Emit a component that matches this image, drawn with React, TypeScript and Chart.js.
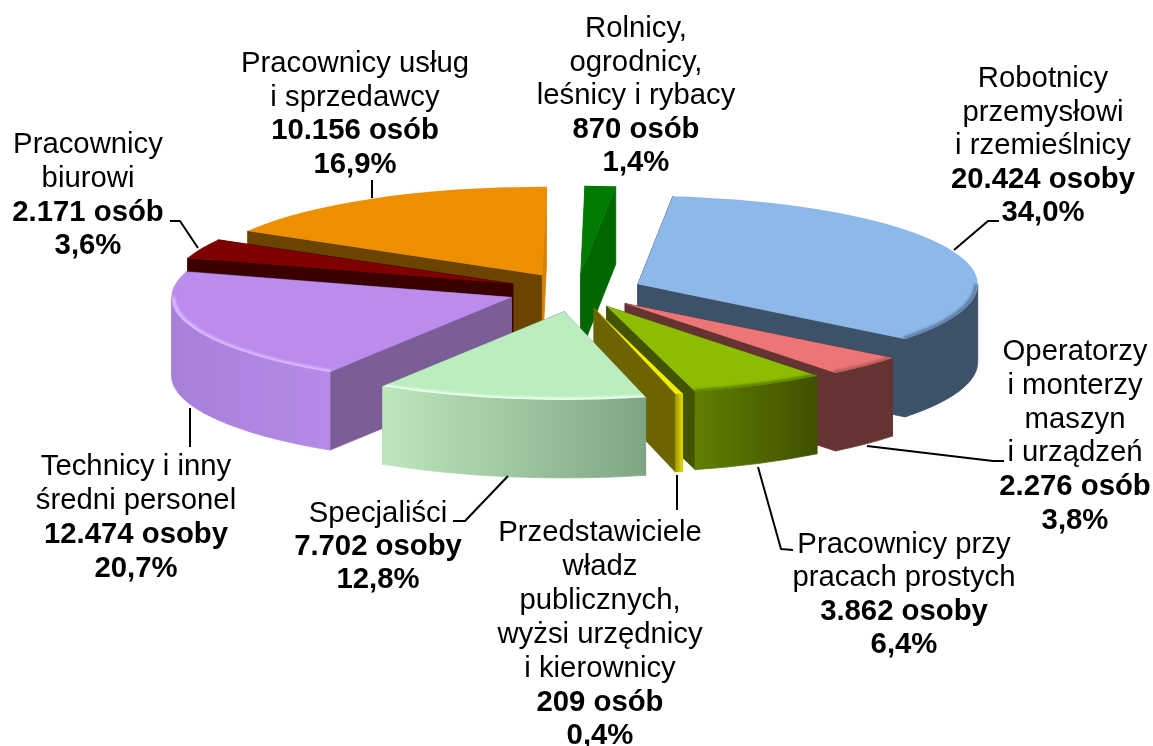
import React, { useEffect, useRef } from "react";
import { Chart, registerables } from "chart.js";

Chart.register(...registerables);

const categories = [
  "Rolnicy, ogrodnicy, leśnicy i rybacy",
  "Robotnicy przemysłowi i rzemieślnicy",
  "Operatorzy i monterzy maszyn i urządzeń",
  "Pracownicy przy pracach prostych",
  "Przedstawiciele władz publicznych, wyżsi urzędnicy i kierownicy",
  "Specjaliści",
  "Technicy i inny średni personel",
  "Pracownicy biurowi",
  "Pracownicy usług i sprzedawcy",
];
const values = [870, 20424, 2276, 3862, 209, 7702, 12474, 2171, 10156];
const explode = [65, 66, 68, 66, 68, 80, 70, 70, 70];

const topColors = ["#007A00", "#8DB9EA", "#EC7575", "#8DBD00", "#F4EC00", "#BBEDBE", "#BB8CEE", "#7F0000", "#EE8F00"];
const startWallColors = ["#007A00", "#3D5268", "#663333", "#425400", "#6B6400", "#7FA585", "#7B5E98", "#3A0000", "#6B4400"];
const endWallColors = ["#006600", "#3D5268", "#663333", "#425400", "#6B6400", "#7FA585", "#7B5E98", "#3A0000", "#D98200"];
const rimWallLeft = ["#006600", "#3D5268", "#663333", "#607F00", "#A09600", "#BDE7BD", "#A680DB", "#3A0000", "#6B4400"];
const rimWallRight = ["#006600", "#3D5268", "#663333", "#405000", "#E5DC00", "#7FA585", "#B68AE8", "#3A0000", "#6B4400"];
const bevelColors = ["", "#5F80A5", "#B85C5C", "#5F7F00", "#F4EC00", "#EAFFEC", "#DDB8FF", "", ""];

const labelLines = [
  ["Rolnicy,", "ogrodnicy,", "leśnicy i rybacy", "*870 osób", "*1,4%"],
  ["Robotnicy", "przemysłowi", "i rzemieślnicy", "*20.424 osoby", "*34,0%"],
  ["Operatorzy", "i monterzy", "maszyn", "i urządzeń", "*2.276 osób", "*3,8%"],
  ["Pracownicy przy", "pracach prostych", "*3.862 osoby", "*6,4%"],
  ["Przedstawiciele", "władz", "publicznych,", "wyżsi urzędnicy", "i kierownicy", "*209 osób", "*0,4%"],
  ["Specjaliści", "*7.702 osoby", "*12,8%"],
  ["Technicy i inny", "średni personel", "*12.474 osoby", "*20,7%"],
  ["Pracownicy", "biurowi", "*2.171 osób", "*3,6%"],
  ["Pracownicy usług", "i sprzedawcy", "*10.156 osób", "*16,9%"],
];
const labelCenterX = [636, 1043, 1075, 904, 600, 378, 136, 88, 355];
const labelBaselineY = [37, 87, 360, 553, 541, 522, 475, 153, 72];
const labelLineStep = [33.6, 33.6, 33.8, 33.3, 33.9, 33, 34, 33.8, 33.7];

const leaderLines: number[][][] = [
  [[954, 250], [988, 221], [999, 221]],
  [[867, 446], [993, 461], [1004, 461]],
  [[758, 467], [781, 549], [793, 550]],
  [[677, 475], [677, 510]],
  [[508, 476], [465, 521], [453, 521]],
  [[190, 408], [190, 447]],
  [[198, 248], [180, 221], [170, 221]],
  [[372, 180], [372, 198]],
];

const CENTER_X = 577;
const CENTER_Y = 291;
const SQUASH = 0.26;
const DEPTH = 78;
const FONT = '"Liberation Sans", Arial, sans-serif';

const extrudedPie = {
  id: "extrudedPie",
  beforeDatasetDraw(chart: any) {
    const ctx: CanvasRenderingContext2D = chart.ctx;
    const arcs = chart.getDatasetMeta(0).data;
    const plane = (dy: number, ox: number, oy: number, fn: () => void) => {
      ctx.save();
      ctx.setTransform(1, 0, 0, SQUASH, CENTER_X - ox, CENTER_Y + dy - SQUASH * oy);
      fn();
      ctx.restore();
    };
    const order = arcs
      .map((a: any, i: number) => ({ a, i, mid: (a.startAngle + a.endAngle) / 2 }))
      .sort((p: any, q: any) => Math.sin(p.mid) - Math.sin(q.mid));

    for (const { a, i, mid } of order) {
      const offset = explode[i];
      const px = a.x + Math.cos(mid) * offset;
      const py = a.y + Math.sin(mid) * offset;
      const R = a.outerRadius;
      const sx = (x: number) => x + CENTER_X - a.x;
      const sy = (y: number) => CENTER_Y + SQUASH * (y - a.y);

      ctx.lineWidth = 0.8;
      ctx.lineJoin = "round";
      const cutWall = (angle: number, color: string) => {
        const ex = px + Math.cos(angle) * R;
        const ey = py + Math.sin(angle) * R;
        ctx.fillStyle = color;
        ctx.strokeStyle = color;
        ctx.beginPath();
        ctx.moveTo(sx(px), sy(py));
        ctx.lineTo(sx(ex), sy(ey));
        ctx.lineTo(sx(ex), sy(ey) + DEPTH);
        ctx.lineTo(sx(px), sy(py) + DEPTH);
        ctx.closePath();
        ctx.fill();
        ctx.stroke();
      };
      cutWall(a.startAngle, startWallColors[i]);
      cutWall(a.endAngle, endWallColors[i]);

      const from = Math.max(a.startAngle, 0);
      const to = Math.min(a.endAngle, Math.PI);
      const hasFront = to > from;
      if (hasFront) {
        const spansWest = i === 6;
        const xL = spansWest ? sx(px - R) : sx(px + Math.cos(to) * R);
        const xR = sx(px + Math.cos(from) * R);
        const g = ctx.createLinearGradient(Math.min(xL, xR), 0, Math.max(xL, xR), 0);
        g.addColorStop(0, rimWallLeft[i]);
        g.addColorStop(1, rimWallRight[i]);
        ctx.fillStyle = g;
        ctx.strokeStyle = g;
        ctx.beginPath();
        plane(0, a.x, a.y, () => ctx.arc(px, py, R, from, to));
        plane(DEPTH, a.x, a.y, () => ctx.arc(px, py, R, to, from, true));
        ctx.closePath();
        ctx.fill();
        ctx.stroke();
      }

      ctx.fillStyle = a.options.backgroundColor;
      ctx.beginPath();
      plane(0, a.x, a.y, () => {
        ctx.moveTo(px, py);
        ctx.arc(px, py, R, a.startAngle, a.endAngle);
        ctx.closePath();
      });
      ctx.fill();

      if (hasFront && bevelColors[i]) {
        ctx.save();
        ctx.beginPath();
        plane(0, a.x, a.y, () => {
          ctx.moveTo(px, py);
          ctx.arc(px, py, R, a.startAngle, a.endAngle);
          ctx.closePath();
        });
        ctx.clip();
        ctx.beginPath();
        plane(0, a.x, a.y, () => ctx.arc(px, py, R - 2, from, to));
        ctx.strokeStyle = bevelColors[i];
        ctx.lineWidth = 4;
        ctx.filter = "blur(1px)";
        ctx.stroke();
        ctx.restore();
      }
    }
    return false;
  },
  afterDatasetsDraw(chart: any) {
    const ctx: CanvasRenderingContext2D = chart.ctx;
    ctx.save();
    ctx.strokeStyle = "#000";
    ctx.lineWidth = 2;
    for (const line of leaderLines) {
      ctx.beginPath();
      line.forEach(([x, y], k) => (k ? ctx.lineTo(x, y) : ctx.moveTo(x, y)));
      ctx.stroke();
    }
    ctx.fillStyle = "#000";
    ctx.textAlign = "center";
    ctx.textBaseline = "alphabetic";
    labelLines.forEach((lines, i) => {
      lines.forEach((raw, k) => {
        const bold = raw.startsWith("*");
        const text = bold ? raw.slice(1) : raw;
        ctx.font = `${bold ? "bold " : ""}29.3px ${FONT}`;
        ctx.fillText(text, labelCenterX[i], labelBaselineY[i] + k * labelLineStep[i]);
      });
    });
    ctx.restore();
  },
};

export default function App() {
  const ref = useRef<HTMLCanvasElement>(null);
  useEffect(() => {
    if (!ref.current) return;
    const chart = new Chart(ref.current, {
      type: "pie",
      data: {
        labels: categories,
        datasets: [{ data: values, backgroundColor: topColors, offset: explode, borderWidth: 0 }],
      },
      options: {
        responsive: false,
        animation: false,
        radius: 340,
        rotation: 0.7,
        layout: { padding: 0 },
        plugins: { legend: { display: false }, tooltip: { enabled: false } },
      } as any,
      plugins: [extrudedPie as any],
    });
    return () => chart.destroy();
  }, []);
  return (
    <div style={{ position: "absolute", left: 0, top: 0, width: 1153, height: 746, background: "#fff" }}>
      <canvas ref={ref} width={1153} height={746} style={{ display: "block" }} />
    </div>
  );
}
